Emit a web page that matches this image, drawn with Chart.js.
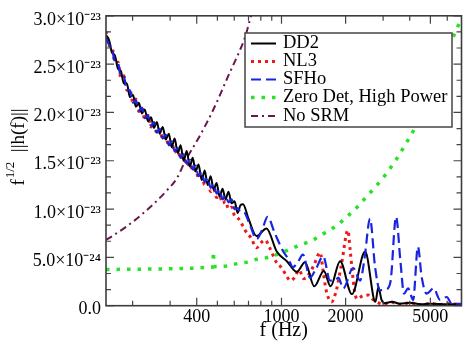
<!DOCTYPE html>
<html><head><meta charset="utf-8">
<script src="https://cdn.jsdelivr.net/npm/chart.js@4"></script>
<style>html,body{margin:0;padding:0;background:#fff}#wrap{width:463px;height:347px;position:relative}</style>
</head><body><div id="wrap"><canvas id="c"></canvas></div>
<script>
// ---- data (amplitudes in units of 1e-24) ----
const xTickValues = [400, 1000, 2000, 5000];
const xMinorTicks = [200, 300, 500, 600, 700, 800, 900, 3000, 4000, 6000];
const yTickValues = [0, 5, 10, 15, 20, 25, 30];
const yTickLabels = ['0.0', '5.0×10⁻²⁴', '1.0×10⁻²³', '1.5×10⁻²³', '2.0×10⁻²³', '2.5×10⁻²³', '3.0×10⁻²³'];
const yMinorTicks = [1.667, 3.333, 6.667, 8.333, 11.667, 13.333, 16.667, 18.333, 21.667, 23.333, 26.667, 28.333];
const seriesNames = ['DD2', 'NL3', 'SFHo', 'Zero Det, High Power', 'No SRM'];

const fLow = [150,155,160,165,171,176,182,188,194,201,207,214,221,228,236,244,252,260,268,277,286,296,305,315,326,336,347,359,371,383,395,408,422,436,450,465,480,496,512,529,546,564,583,602,622,642];

const dd2Low = [28.0,27.5,26.2,25.9,24.5,24.3,23.0,23.0,21.6,21.8,20.6,21.0,19.9,20.3,19.1,19.5,18.4,19.0,17.8,18.5,17.2,17.8,16.4,17.3,15.8,16.6,15.0,16.0,14.4,15.3,13.9,14.6,13.0,14.0,12.5,13.4,12.0,12.7,11.3,12.1,11.0,11.8,10.6,10.8,9.6,10.4];
const dd2HighF = [660,700,764,850,950,1060,1180,1290,1425,1580,1700,1884,2140,2470,2760,2850,2950,3060,3300,3600,4000,4500,5000,6000,7000];
const dd2High = [10.5,9.0,7.2,8.0,5.6,4.6,3.5,4.5,2.0,3.6,2.0,4.6,1.2,5.6,0.4,1.9,0.6,0.25,0.4,0.2,0.3,0.15,0.2,0.15,0.15];

const nl3Low = [28.4,26.9,26.8,25.2,25.2,23.6,23.8,22.3,22.4,21.0,21.4,20.1,20.5,19.3,19.7,18.5,19.0,17.8,18.2,17.2,17.5,16.5,16.9,15.9,16.1,15.2,15.5,14.5,14.8,13.9,14.1,13.2,13.4,12.5,12.7,11.8,12.1,11.2,11.4,10.6,10.8,10.0,10.2,9.3,9.1,8.7];
const nl3HighF = [675,720,764,800,838,880,940,985,1050,1097,1150,1210,1270,1320,1420,1517,1570,1620,1720,1810,1920,2050,2100,2150,2200,2260,2400,2550,2700,2850,3000,3300,3600,4000,4500,5000,5500,6000,7000];
const nl3High = [7.8,7.0,6.0,6.5,6.8,6.0,4.6,4.1,3.2,2.6,2.9,3.7,2.8,3.0,4.2,5.5,3.5,1.6,0.4,1.6,4.5,7.8,5.8,3.5,1.6,0.7,1.0,1.1,0.6,0.3,0.2,0.35,0.15,0.3,0.1,0.25,0.1,0.2,0.1];

const sfhoLow = [27.7,27.0,26.6,25.3,25.1,23.7,23.7,22.3,22.3,21.0,21.3,20.2,20.5,19.4,19.7,18.6,19.0,17.9,18.3,17.3,17.7,16.6,17.0,16.0,16.3,15.3,15.7,14.7,15.1,14.1,14.5,13.4,13.8,12.8,13.2,12.2,12.6,11.6,12.0,11.0,11.4,10.7,11.0,10.0,10.1,9.7];
const sfhoHighF = [670,710,764,810,860,930,1020,1080,1130,1200,1260,1362,1450,1570,1690,1780,1850,1950,2170,2340,2450,2605,2750,2900,3100,3250,3450,3620,3760,3930,4150,4370,4550,4800,5180,5550,5970,6300,7000];
const sfhoHigh = [9.6,8.4,6.9,7.8,9.2,7.5,5.6,4.8,4.0,4.6,5.3,2.9,3.8,5.1,2.6,2.6,2.9,1.8,3.9,2.6,4.8,9.0,4.0,1.6,1.7,2.5,9.2,4.5,1.25,1.8,0.6,6.1,3.0,1.25,1.8,0.6,0.9,0.2,0.2];

const zeroDetF = [150,200,250,300,350,400,440,476,479,482,550,618,686,764,850,950,1040,1130,1265,1400,1530,1680,1850,2000,2170,2338,2530,2740,3120,3500,3800,4160,4560,5050,5500,5760,6100,6340,6600,6890,7000];
const zeroDet = [3.75,3.77,3.8,3.82,3.85,3.9,3.95,4.0,5.6,4.05,4.1,4.35,4.5,4.8,4.96,5.3,5.64,5.97,6.4,6.75,7.3,7.8,8.4,9.1,9.76,10.5,11.4,12.2,13.7,15.3,16.6,18.1,20.0,21.9,23.8,24.7,26.6,27.6,28.5,29.4,29.7];

const noSrmF = [150,163,190,217,250,289,323,352,414,479,563,634,675,711,760];
const noSrm = [6.8,7.3,8.3,9.3,10.5,11.9,13.2,14.9,17.6,20.3,23.8,26.3,27.8,29.6,31.8];

// ---- build ----
const FONT = "'Liberation Serif','Times New Roman',serif";
const pts = (fs, vs) => fs.map((f, i) => ({x: f, y: vs[i]}));

const datasets = [
  {label: seriesNames[0], data: pts(fLow.concat(dd2HighF), dd2Low.concat(dd2High)),
   borderColor: '#000000', borderWidth: 2, cubicInterpolationMode: 'monotone', order: 1},
  {label: seriesNames[1], data: pts(fLow.concat(nl3HighF), nl3Low.concat(nl3High)),
   borderColor: 'rgb(238,24,24)', borderWidth: 3, borderDash: [3, 4], cubicInterpolationMode: 'monotone', order: 2},
  {label: seriesNames[2], data: pts(fLow.concat(sfhoHighF), sfhoLow.concat(sfhoHigh)),
   borderColor: 'rgb(24,36,224)', borderWidth: 2.2, borderDash: [10, 5], cubicInterpolationMode: 'monotone', order: 0},
  {label: seriesNames[3], data: pts(zeroDetF, zeroDet),
   borderColor: 'rgb(40,226,40)', borderWidth: 3.5, borderDash: [3.5, 7], tension: 0, order: 3},
  {label: seriesNames[4], data: pts(noSrmF, noSrm),
   borderColor: 'rgb(104,24,76)', borderWidth: 2, borderDash: [7, 4, 2, 4], cubicInterpolationMode: 'monotone', order: 4}
];

const framePlugin = {
  id: 'frame',
  afterDraw(chart) {
    const {ctx, chartArea: a, scales: {x, y}} = chart;
    ctx.save();
    ctx.strokeStyle = '#444'; ctx.lineWidth = 1.2; ctx.setLineDash([]);
    ctx.beginPath();
    const xt = (v, len) => { const p = x.getPixelForValue(v); ctx.moveTo(p, a.bottom); ctx.lineTo(p, a.bottom - len); ctx.moveTo(p, a.top); ctx.lineTo(p, a.top + len); };
    const yt = (v, len) => { const p = y.getPixelForValue(v); ctx.moveTo(a.left, p); ctx.lineTo(a.left + len, p); ctx.moveTo(a.right, p); ctx.lineTo(a.right - len, p); };
    xTickValues.forEach(v => xt(v, 8)); xMinorTicks.forEach(v => xt(v, 5));
    yTickValues.forEach(v => yt(v, 8)); yMinorTicks.forEach(v => yt(v, 5));
    ctx.stroke();
    ctx.strokeStyle = '#3c3c3c'; ctx.lineWidth = 1.6;
    ctx.strokeRect(a.left, a.top, a.right - a.left, a.bottom - a.top);

    // legend
    const lx = 245, ly = 33, lw = 207, lh = 94;
    ctx.fillStyle = '#fff'; ctx.fillRect(lx, ly, lw, lh);
    ctx.strokeStyle = '#444'; ctx.lineWidth = 1.5; ctx.strokeRect(lx, ly, lw, lh);
    const rows = [43.5, 61.5, 79.5, 97.5, 116];
    chart.data.datasets.forEach((ds, i) => {
      const yy = rows[i];
      ctx.save();
      ctx.strokeStyle = ds.borderColor; ctx.lineWidth = ds.borderWidth; ctx.setLineDash(ds.borderDash || []);
      ctx.beginPath(); ctx.moveTo(251, yy); ctx.lineTo(276, yy); ctx.stroke();
      ctx.restore();
      ctx.fillStyle = '#000'; ctx.font = '18.5px ' + FONT; ctx.textBaseline = 'middle'; ctx.textAlign = 'left';
      ctx.fillText(ds.label, 283, yy);
    });

    // y-axis title: f^{1/2} ||h(f)||
    ctx.translate(24, 147); ctx.rotate(-Math.PI / 2);
    ctx.fillStyle = '#000'; ctx.textBaseline = 'alphabetic'; ctx.textAlign = 'left';
    const big = '19px ' + FONT, small = '13px ' + FONT;
    ctx.font = big; const w1 = ctx.measureText('f').width, w3 = ctx.measureText('  ||h(f)||').width;
    ctx.font = small; const w2 = ctx.measureText('1/2').width;
    let sx = -(w1 + w2 + w3 + 1) / 2;
    ctx.font = big; ctx.fillText('f', sx, 0); sx += w1 + 1;
    ctx.font = small; ctx.fillText('1/2', sx, -10); sx += w2;
    ctx.font = big; ctx.fillText('  ||h(f)||', sx, 0);
    ctx.restore();
  }
};

new Chart(document.getElementById('c'), {
  type: 'line',
  data: {datasets},
  options: {
    responsive: true, maintainAspectRatio: false, animation: false,
    layout: {padding: {top: 12, right: 1.5, left: 0, bottom: 0}},
    plugins: {legend: {display: false}, tooltip: {enabled: false}},
    elements: {point: {radius: 0}},
    scales: {
      x: {
        type: 'logarithmic', min: 150, max: 7000,
        grid: {display: false, drawTicks: false}, border: {display: false},
        afterBuildTicks: s => { s.ticks = xTickValues.map(v => ({value: v})); },
        afterFit: s => { s.height = 41.3; },
        ticks: {autoSkip: false, maxRotation: 0, padding: 1, color: '#000', font: {family: FONT, size: 18},
                callback: v => String(v)},
        title: {display: true, text: 'f (Hz)', color: '#000', font: {family: FONT, size: 20}, padding: {top: 0, bottom: 4}}
      },
      y: {
        type: 'linear', min: 0, max: 30,
        grid: {display: false, drawTicks: false}, border: {display: false},
        afterBuildTicks: s => { s.ticks = yTickValues.map(v => ({value: v})); },
        afterFit: s => { s.width = 106; },
        ticks: {autoSkip: false, padding: 5, labelOffset: 4, color: '#000', font: {family: FONT, size: 18},
                callback: v => yTickLabels[yTickValues.indexOf(v)]}
      }
    }
  },
  plugins: [framePlugin]
});
</script></body></html>
